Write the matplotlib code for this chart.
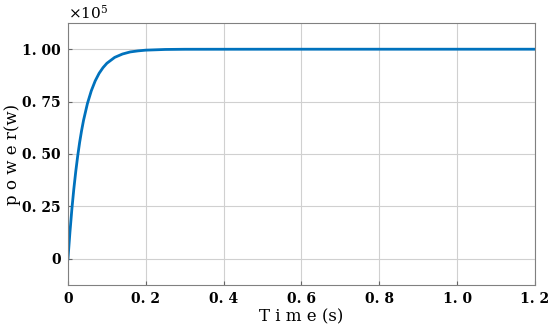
import numpy as np
import matplotlib.pyplot as plt

# time (s) and power (x1e5 W)
t = np.array([0, 0.005, 0.01, 0.015, 0.02, 0.025, 0.03, 0.035, 0.04, 0.05, 0.06,
              0.07, 0.08, 0.09, 0.10, 0.12, 0.14, 0.16, 0.18, 0.20, 0.25, 0.3, 0.6, 1.2])
p = np.array([0, 0.126, 0.237, 0.333, 0.417, 0.491, 0.556, 0.612, 0.661, 0.741, 0.802,
              0.849, 0.885, 0.912, 0.933, 0.961, 0.977, 0.987, 0.992, 0.9955, 0.9988, 0.9997, 1.0, 1.0])

xticks = [0, 0.2, 0.4, 0.6, 0.8, 1.0, 1.2]
xlabels = ["0", "0. 2", "0. 4", "0. 6", "0. 8", "1. 0", "1. 2"]
yticks = [0, 0.25, 0.5, 0.75, 1.0]
ylabels = ["0", "0. 25", "0. 50", "0. 75", "1. 00"]

plt.rcParams['font.family'] = ['DejaVu Serif']
plt.rcParams['mathtext.fontset'] = 'dejavuserif'
fig = plt.figure(figsize=(5.5, 3.32), dpi=100)
ax = fig.add_axes([0.1236, 0.1416, 0.8491, 0.7891])

ax.plot(t, p, color="#0072BD", lw=2)
ax.set_xlim(0, 1.2)
ax.set_ylim(-0.125, 1.125)
ax.set_xticks(xticks)
ax.set_xticklabels(xlabels)
ax.set_yticks(yticks)
ax.set_yticklabels(ylabels)
ax.tick_params(labelsize=10, length=3, color="#666666", direction="in", pad=5)
for lab in ax.get_xticklabels() + ax.get_yticklabels():
    lab.set_fontweight("bold")
ax.grid(True, color="#d0d0d0", lw=0.8)
for s in ax.spines.values():
    s.set_color("#808080")

ax.set_xlabel("T i m e (s)", fontsize=12)
ax.set_ylabel("p o w e r(w)", fontsize=12)
ax.yaxis.set_label_coords(-0.1, 0.5)
ax.xaxis.set_label_coords(0.5, -0.09)
ax.text(0.0, 1.005, r"$\times10^5$", transform=ax.transAxes, fontsize=11,
        ha="left", va="bottom")

plt.savefig("out.png")
